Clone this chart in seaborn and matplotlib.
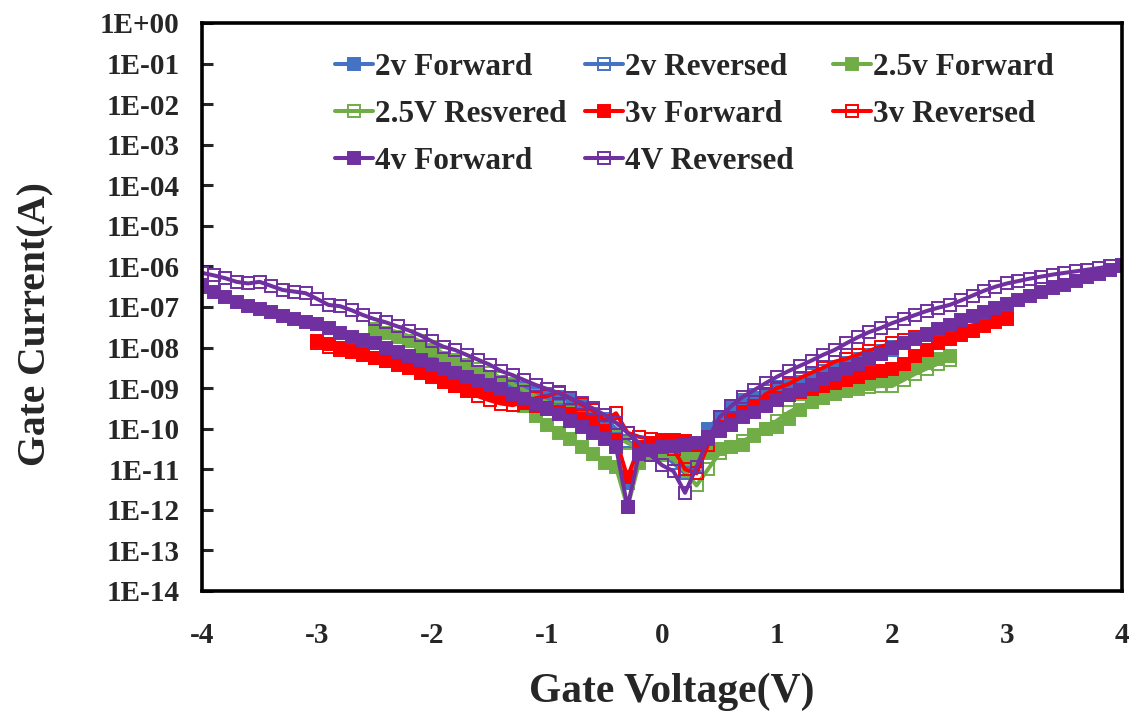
import numpy as np
import pandas as pd
import matplotlib
matplotlib.use("Agg")
import matplotlib.pyplot as plt
import seaborn as sns
from matplotlib.ticker import FixedLocator, NullLocator, FuncFormatter

# ---------------- data (gate voltage sweep, log10 of gate current) ----------------
voltage = [-4.0, -3.9, -3.8, -3.7, -3.6, -3.5, -3.4, -3.3, -3.2, -3.1,
           -3.0, -2.9, -2.8, -2.7, -2.6, -2.5, -2.4, -2.3, -2.2, -2.1,
           -2.0, -1.9, -1.8, -1.7, -1.6, -1.5, -1.4, -1.3, -1.2, -1.1,
           -1.0, -0.9, -0.8, -0.7, -0.6, -0.5, -0.4, -0.3, -0.2, -0.1,
           0.0, 0.1, 0.2, 0.3, 0.4, 0.5, 0.6, 0.7, 0.8, 0.9,
           1.0, 1.1, 1.2, 1.3, 1.4, 1.5, 1.6, 1.7, 1.8, 1.9,
           2.0, 2.1, 2.2, 2.3, 2.4, 2.5, 2.6, 2.7, 2.8, 2.9,
           3.0, 3.1, 3.2, 3.3, 3.4, 3.5, 3.6, 3.7, 3.8, 3.9,
           4.0]
voltage_2v = voltage[20:61]
voltage_25v = voltage[15:66]
voltage_3v = voltage[10:71]
voltage_4v = voltage

log_i_2v_fwd = [-8.35, -8.45, -8.55, -8.65, -8.75, -8.82, -8.90, -8.95, -9.02, -9.10,
                -9.18, -9.25, -9.32, -9.45, -9.65, -9.90, -10.20, -11.35, -10.70, -10.60,
                -10.50, -10.60, -10.80, -10.55, -10.00, -9.70, -9.50, -9.35, -9.25, -9.15,
                -9.05, -8.95, -8.85, -8.75, -8.65, -8.55, -8.45, -8.35, -8.25, -8.15,
                -8.05]
log_i_2v_rev = [-8.30, -8.40, -8.50, -8.60, -8.68, -8.76, -8.84, -8.92, -9.00, -9.08,
                -9.15, -9.22, -9.30, -9.40, -9.55, -9.75, -10.00, -10.30, -10.50, -10.55,
                -10.60, -10.85, -11.10, -10.90, -10.20, -9.75, -9.45, -9.30, -9.18, -9.08,
                -8.98, -8.88, -8.78, -8.68, -8.58, -8.48, -8.38, -8.28, -8.18, -8.08,
                -7.98]
log_i_25v_fwd = [-7.55, -7.65, -7.75, -7.85, -7.95, -8.05, -8.25, -8.40, -8.52, -8.65,
                 -8.80, -8.95, -9.20, -9.45, -9.68, -9.92, -10.10, -10.25, -10.45, -10.62,
                 -10.85, -10.95, -11.93, -10.85, -10.65, -10.55, -10.60, -10.70, -10.75, -10.60,
                 -10.50, -10.45, -10.40, -10.15, -10.00, -9.95, -9.75, -9.55, -9.35, -9.25,
                 -9.15, -9.05, -8.98, -8.90, -8.83, -8.75, -8.62, -8.50, -8.38, -8.28,
                 -8.20]
log_i_25v_rev = [-7.45, -7.55, -7.62, -7.72, -7.85, -7.98, -8.15, -8.30, -8.42, -8.52,
                 -8.62, -8.75, -8.90, -9.05, -9.20, -9.35, -9.50, -9.62, -9.75, -9.90,
                 -10.05, -10.20, -10.35, -10.50, -10.60, -10.65, -10.75, -11.05, -11.40, -11.00,
                 -10.60, -10.45, -10.30, -10.18, -10.00, -9.80, -9.60, -9.45, -9.35, -9.25,
                 -9.15, -9.08, -9.02, -8.98, -8.95, -8.95, -8.80, -8.65, -8.52, -8.40,
                 -8.30]
log_i_3v_fwd = [-7.85, -7.92, -8.00, -8.08, -8.15, -8.25, -8.33, -8.42, -8.50, -8.60,
                -8.70, -8.85, -8.95, -9.05, -9.08, -9.12, -9.20, -9.28, -9.36, -9.45,
                -9.52, -9.58, -9.65, -9.75, -9.86, -10.05, -10.28, -11.20, -10.45, -10.35,
                -10.30, -10.28, -10.30, -10.40, -10.20, -9.95, -9.75, -9.58, -9.45, -9.35,
                -9.25, -9.18, -9.10, -9.02, -8.95, -8.88, -8.80, -8.72, -8.62, -8.58,
                -8.52, -8.40, -8.22, -8.05, -7.90, -7.78, -7.68, -7.58, -7.48, -7.38,
                -7.28]
log_i_3v_rev = [-7.90, -7.98, -8.05, -8.10, -8.18, -8.25, -8.32, -8.40, -8.48, -8.63,
                -8.72, -8.82, -8.95, -9.08, -9.20, -9.30, -9.38, -9.42, -9.35, -9.25,
                -9.20, -9.10, -9.25, -9.40, -9.55, -9.80, -9.62, -10.10, -10.20, -10.25,
                -10.28, -10.50, -11.00, -11.10, -10.40, -10.00, -9.80, -9.62, -9.45, -9.15,
                -9.00, -8.90, -8.75, -8.62, -8.50, -8.35, -8.28, -8.18, -8.08, -7.98,
                -7.90, -7.82, -7.75, -7.68, -7.62, -7.55, -7.50, -7.45, -7.40, -7.35,
                -7.30]
log_i_4v_fwd = [-6.50, -6.62, -6.75, -6.88, -6.97, -7.05, -7.13, -7.22, -7.30, -7.36,
                -7.42, -7.53, -7.64, -7.73, -7.82, -7.90, -8.00, -8.10, -8.20, -8.30,
                -8.42, -8.52, -8.63, -8.72, -8.82, -8.92, -9.03, -9.15, -9.27, -9.40,
                -9.52, -9.65, -9.80, -9.95, -10.10, -10.25, -10.45, -11.93, -10.62, -10.52,
                -10.45, -10.42, -10.40, -10.35, -10.20, -10.05, -9.90, -9.72, -9.58, -9.45,
                -9.30, -9.18, -9.05, -8.92, -8.78, -8.65, -8.52, -8.40, -8.28, -8.15,
                -8.02, -7.90, -7.78, -7.66, -7.55, -7.44, -7.33, -7.22, -7.12, -7.02,
                -6.92, -6.82, -6.72, -6.63, -6.54, -6.45, -6.36, -6.27, -6.18, -6.08,
                -5.98]
log_i_4v_rev = [-6.16, -6.22, -6.29, -6.38, -6.42, -6.38, -6.48, -6.58, -6.62, -6.66,
                -6.80, -6.95, -6.98, -7.08, -7.20, -7.30, -7.38, -7.48, -7.58, -7.70,
                -7.85, -7.98, -8.06, -8.18, -8.30, -8.42, -8.58, -8.68, -8.80, -8.92,
                -9.02, -9.12, -9.25, -9.36, -9.50, -9.66, -9.85, -10.10, -10.35, -10.65,
                -10.90, -11.05, -11.58, -10.95, -10.25, -9.72, -9.45, -9.22, -9.05, -8.88,
                -8.72, -8.58, -8.45, -8.32, -8.18, -8.06, -7.90, -7.75, -7.62, -7.52,
                -7.40, -7.30, -7.20, -7.10, -7.02, -6.95, -6.84, -6.72, -6.60, -6.50,
                -6.42, -6.36, -6.30, -6.25, -6.20, -6.16, -6.12, -6.08, -6.04, -6.00,
                -5.97]

series_labels = ["2v Forward", "2v Reversed", "2.5v Forward", "2.5V Resvered",
                 "3v Forward", "3v Reversed", "4v Forward", "4V Reversed"]
series_volts = [voltage_2v, voltage_2v, voltage_25v, voltage_25v,
                voltage_3v, voltage_3v, voltage_4v, voltage_4v]
series_logs = [log_i_2v_fwd, log_i_2v_rev, log_i_25v_fwd, log_i_25v_rev,
               log_i_3v_fwd, log_i_3v_rev, log_i_4v_fwd, log_i_4v_rev]
series_colors = ["#4472C4", "#4472C4", "#70AD47", "#70AD47",
                 "#FF0000", "#FF0000", "#7030A0", "#7030A0"]
series_filled = [True, False, True, False, True, False, True, False]

y_decades = list(range(-14, 1))
x_ticks = [-4, -3, -2, -1, 0, 1, 2, 3, 4]

# ---------------- plotting ----------------
sns.set_theme(style="white")
plt.rcParams['font.family'] = ['Liberation Serif', 'DejaVu Serif']
plt.rcParams['font.weight'] = 'bold'

fig = plt.figure(figsize=(11.37, 7.2), dpi=100)
ax = fig.add_axes([0.1777, 0.1792, 0.8091, 0.7889])
ax.set_yscale('log')

for lab, vs, lg, col, filled in zip(series_labels, series_volts, series_logs,
                                     series_colors, series_filled):
    df = pd.DataFrame({"V": vs, "I": np.power(10.0, np.array(lg))})
    sns.lineplot(data=df, x="V", y="I", ax=ax, color=col, linewidth=2.9,
                 marker="s", markersize=8.6,
                 markerfacecolor=col if filled else "none",
                 markeredgecolor=col, markeredgewidth=1.4,
                 legend=False, sort=False, estimator=None)

ax.set_xlim(-4, 4)
ax.set_ylim(1e-14, 1.0)
ax.yaxis.set_major_locator(FixedLocator([10.0 ** k for k in y_decades]))
ax.yaxis.set_minor_locator(NullLocator())
ax.yaxis.set_major_formatter(FuncFormatter(
    lambda v, p: "1E" + format(int(round(np.log10(v))), '+03d')))
ax.set_xticks(x_ticks)
ax.set_xticklabels([str(t) for t in x_ticks])

ax.tick_params(axis='y', direction='in', length=8, width=2.2, pad=16,
               labelsize=21, left=True)
ax.tick_params(axis='x', direction='in', length=0, pad=22, labelsize=21,
               bottom=True)
for t in ax.get_xticklabels() + ax.get_yticklabels():
    t.set_fontweight('bold')

for sp in ax.spines.values():
    sp.set_visible(True)
    sp.set_color('black')
    sp.set_linewidth(2.6)

ax.set_xlabel("Gate Voltage(V)", fontsize=30, fontweight='bold')
ax.set_ylabel("Gate Current(A)", fontsize=28.5, fontweight='bold')
ax.xaxis.set_label_coords(0.511, -0.143)
ax.yaxis.set_label_coords(-0.16, 0.47)

# legend: three columns laid out row-wise like the original
handles = list(ax.lines)
cols = [[0, 3, 6], [1, 4, 7], [2, 5]]
xs = [0.1446, 0.4163, 0.6859]
for i, (idx, x0) in enumerate(zip(cols, xs)):
    leg = ax.legend([handles[j] for j in idx], [series_labels[j] for j in idx],
                    loc='upper left', bbox_to_anchor=(x0, 0.948),
                    frameon=False, borderpad=0, borderaxespad=0,
                    handlelength=1.2, handletextpad=0.08, labelspacing=0.58,
                    prop=dict(family='Liberation Serif', weight='bold', size=22.5))
    if i < 2:
        ax.add_artist(leg)

fig.savefig("out.png", dpi=100)
